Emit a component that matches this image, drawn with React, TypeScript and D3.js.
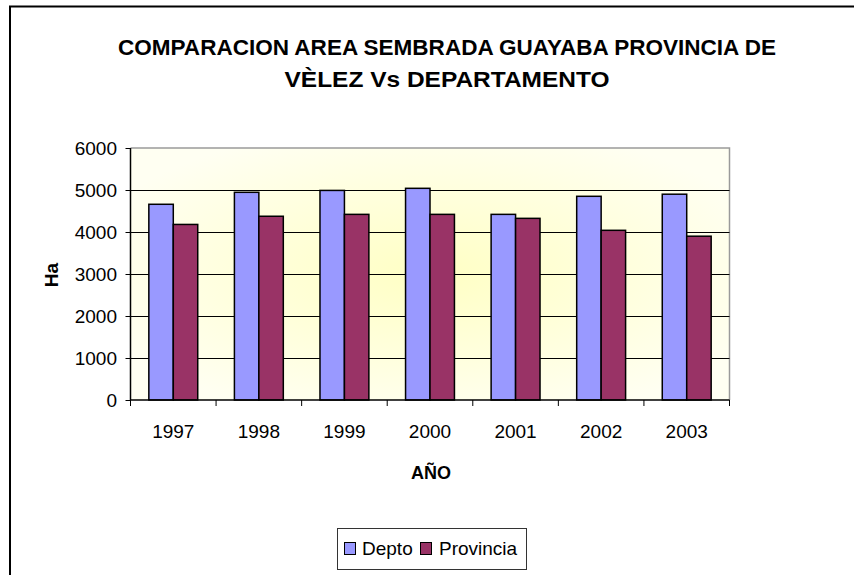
import React from "react";
import * as d3 from "d3";

const years = ["1997", "1998", "1999", "2000", "2001", "2002", "2003"];
const depto = [4660, 4945, 4990, 5040, 4420, 4850, 4900];
const provincia = [4180, 4375, 4420, 4420, 4325, 4040, 3900];
const seriesNames = ["Depto", "Provincia"];
const seriesColors = ["#9999FF", "#993366"];
const yTicks = [0, 1000, 2000, 3000, 4000, 5000, 6000];
const titleLines = [
  "COMPARACION AREA SEMBRADA GUAYABA PROVINCIA DE",
  "VÈLEZ Vs DEPARTAMENTO",
];

const W = 854;
const H = 575;
const FONT = "'Liberation Sans', Arial, sans-serif";

export default function App() {
  const left = 130.5;
  const right = 729.5;
  const top = 148;
  const bottom = 400;

  const x0 = d3.scaleBand<string>().domain(years).range([left, right]).padding(0);
  const bw = x0.bandwidth() / 3.5;
  const x1 = d3
    .scaleBand<string>()
    .domain(seriesNames)
    .range([bw * 0.75, bw * 2.75])
    .padding(0);
  const y = d3.scaleLinear().domain([0, 6000]).range([bottom, top]);
  const data = [depto, provincia];

  return (
    <svg
      width={W}
      height={H}
      style={{ position: "absolute", left: 0, top: 0, background: "#fff" }}
      fontFamily={FONT}
    >
      <defs>
        <radialGradient id="plotbg" cx="0.5" cy="0.5" r="0.6">
          <stop offset="0%" stopColor="#FFFFC4" />
          <stop offset="100%" stopColor="#FFFFF2" />
        </radialGradient>
      </defs>
      {/* chart frame */}
      <path d={`M10,${H + 5} L10,6.5 L${W + 5},6.5`} fill="none" stroke="#000" strokeWidth={2} />

      {/* title */}
      <text
        x={447}
        y={55}
        textAnchor="middle"
        fontWeight="bold"
        fontSize={22}
        textLength={658}
        lengthAdjust="spacingAndGlyphs"
      >
        {titleLines[0]}
      </text>
      <text
        x={447}
        y={87}
        textAnchor="middle"
        fontWeight="bold"
        fontSize={22}
        textLength={325}
        lengthAdjust="spacingAndGlyphs"
      >
        {titleLines[1]}
      </text>

      {/* plot area */}
      <rect x={left} y={top} width={right - left} height={bottom - top} fill="url(#plotbg)" />
      <path d={`M${left},${top} L${right},${top} L${right},${bottom}`} fill="none" stroke="#9a9a9a" strokeWidth={1.5} />

      {/* gridlines */}
      {yTicks.filter((t) => t > 0 && t < 6000).map((t) => (
        <line key={t} x1={left} x2={right} y1={Math.round(y(t)) + 0.5} y2={Math.round(y(t)) + 0.5} stroke="#000" strokeWidth={1} />
      ))}

      {/* bars */}
      {years.map((yr, i) => (
        <g key={yr} transform={`translate(${x0(yr)},0)`}>
          {seriesNames.map((s, j) => (
            <rect
              key={s}
              x={x1(s)}
              y={y(data[j][i])}
              width={x1.bandwidth()}
              height={bottom - y(data[j][i])}
              fill={seriesColors[j]}
              stroke="#000"
              strokeWidth={1.5}
            />
          ))}
        </g>
      ))}

      {/* y axis */}
      <line x1={left} x2={left} y1={top} y2={bottom} stroke="#000" strokeWidth={1.5} />
      {yTicks.map((t) => (
        <g key={t}>
          <line x1={left - 5} x2={left} y1={Math.round(y(t)) + 0.5} y2={Math.round(y(t)) + 0.5} stroke="#000" strokeWidth={1} />
          <text x={117} y={y(t)} dy="0.36em" textAnchor="end" fontSize={19}>
            {t}
          </text>
        </g>
      ))}

      {/* x axis */}
      <line x1={left} x2={right} y1={bottom} y2={bottom} stroke="#000" strokeWidth={1.5} />
      {[...years.map((yr) => x0(yr) as number), right].map((xv, i) => (
        <line key={i} x1={xv} x2={xv} y1={bottom} y2={bottom + 6} stroke="#000" strokeWidth={1} />
      ))}
      {years.map((yr) => (
        <text key={yr} x={(x0(yr) as number) + x0.bandwidth() / 2} y={438} textAnchor="middle" fontSize={19}>
          {yr}
        </text>
      ))}

      {/* axis titles */}
      <text x={431} y={479} textAnchor="middle" fontWeight="bold" fontSize={18}>
        AÑO
      </text>
      <text
        transform={`translate(58,275) rotate(-90)`}
        textAnchor="middle"
        fontWeight="bold"
        fontSize={19}
      >
        Ha
      </text>

      {/* legend */}
      <rect x={337.5} y={528.5} width={189} height={41} fill="#fff" stroke="#333" strokeWidth={1} />
      <rect x={344.5} y={542.5} width={11} height={12} fill={seriesColors[0]} stroke="#000" strokeWidth={1} />
      <text x={362} y={555} fontSize={19}>
        {seriesNames[0]}
      </text>
      <rect x={420.5} y={542.5} width={11} height={12} fill={seriesColors[1]} stroke="#000" strokeWidth={1} />
      <text x={439} y={555} fontSize={19}>
        {seriesNames[1]}
      </text>
    </svg>
  );
}
